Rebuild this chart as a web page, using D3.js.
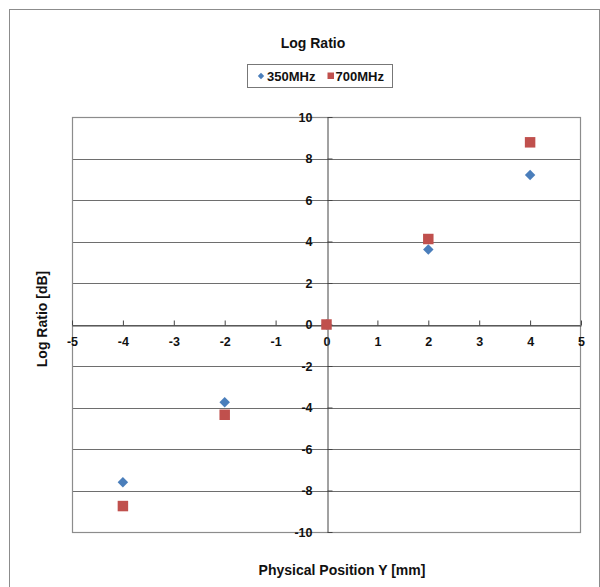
<!DOCTYPE html>
<html>
<head>
<meta charset="utf-8">
<script src="https://cdn.jsdelivr.net/npm/d3@7"></script>
<style>
  body { margin: 0; background: #fff; }
  svg { display: block; font-family: "Liberation Sans", Arial, sans-serif; font-weight: bold; }
</style>
</head>
<body>
<svg id="chart" width="600" height="587"></svg>
<script>
// data
const positions = [-4, -2, 0, 2, 4];
const mhz350 = [-7.6, -3.75, 0, 3.62, 7.2];
const mhz700 = [-8.75, -4.35, 0, 4.12, 8.78];
const xTicks = [-5, -4, -3, -2, -1, 0, 1, 2, 3, 4, 5];
const yTicks = [-10, -8, -6, -4, -2, 0, 2, 4, 6, 8, 10];
const seriesNames = ["350MHz", "700MHz"];

const svg = d3.select("#chart");

// outer chart border
svg.append("rect")
    .attr("x", 9.5).attr("y", 9.5)
    .attr("width", 590).attr("height", 590)
    .attr("fill", "none").attr("stroke", "#8c8c8c");

let pLeft = 72, pRight = 581, pTop = 117, pBottom = 532;

let x = d3.scaleLinear().domain([-5, 5]).range([pLeft, pRight]);
let y = d3.scaleLinear().domain([-10, 10]).range([pBottom, pTop]);

// horizontal gridlines
svg.append("g")
    .selectAll("line")
    .data(yTicks)
    .join("line")
    .attr("x1", pLeft).attr("x2", pRight)
    .attr("y1", d => Math.round(y(d)) + 0.5).attr("y2", d => Math.round(y(d)) + 0.5)
    .attr("stroke", "#6e6e6e").attr("stroke-width", 1);

// plot area border
svg.append("rect")
    .attr("x", pLeft + 0.5).attr("y", pTop + 0.5)
    .attr("width", pRight - pLeft - 1).attr("height", pBottom - pTop)
    .attr("fill", "none").attr("stroke", "#8c8c8c").attr("stroke-width", 1.2);

// x axis through y = 0
let xAxis = svg.append("g")
    .attr("transform", `translate(0,${Math.round(y(0)) + 0.5})`)
    .call(d3.axisBottom(x).tickValues(xTicks).tickSize(0).tickPadding(12).tickFormat(d => String(d)));
xAxis.select(".domain").attr("stroke", "#444");
xAxis.selectAll(".tick").append("line")
    .attr("y1", -5).attr("y2", 0).attr("stroke", "#444");
xAxis.selectAll("text")
    .attr("font-size", 12.5).attr("font-weight", "bold").attr("fill", "#111")
    .attr("font-family", "Liberation Sans, Arial, sans-serif");

// y axis through x = 0
let yAxis = svg.append("g")
    .attr("transform", `translate(${Math.round(x(0)) + 0.5},0)`)
    .call(d3.axisLeft(y).tickValues(yTicks).tickSize(0).tickPadding(15).tickFormat(d => String(d)));
yAxis.select(".domain").attr("stroke", "#444");
yAxis.selectAll(".tick").append("line")
    .attr("x1", 0).attr("x2", 5).attr("stroke", "#444");
yAxis.selectAll("text")
    .attr("font-size", 12.5).attr("font-weight", "bold").attr("fill", "#111")
    .attr("font-family", "Liberation Sans, Arial, sans-serif");

// markers
let diamond = d3.symbol().type(d3.symbolDiamond2).size(70);
let square = d3.symbol().type(d3.symbolSquare).size(110);

svg.append("g")
    .selectAll("path")
    .data(positions.map((p, i) => [p, mhz350[i]]))
    .join("path")
    .attr("d", diamond)
    .attr("transform", d => `translate(${x(d[0])},${y(d[1])})`)
    .attr("fill", "#4a7ebb");

svg.append("g")
    .selectAll("path")
    .data(positions.map((p, i) => [p, mhz700[i]]))
    .join("path")
    .attr("d", square)
    .attr("transform", d => `translate(${x(d[0])},${y(d[1])})`)
    .attr("fill", "#c0504d");

// title
svg.append("text")
    .attr("x", 313).attr("y", 48)
    .attr("text-anchor", "middle")
    .attr("font-size", 14)
    .attr("fill", "#111")
    .text("Log Ratio");

// legend
let lg = svg.append("g");
lg.append("rect")
    .attr("x", 247.5).attr("y", 64.5).attr("width", 145).attr("height", 23)
    .attr("fill", "#fff").attr("stroke", "#777");
lg.append("path")
    .attr("d", d3.symbol().type(d3.symbolDiamond2).size(26))
    .attr("transform", "translate(261,76)")
    .attr("fill", "#4a7ebb");
lg.append("text")
    .attr("x", 267).attr("y", 80.5)
    .attr("font-size", 13).attr("fill", "#111")
    .text(seriesNames[0]);
lg.append("rect")
    .attr("x", 327.5).attr("y", 72.5).attr("width", 6.5).attr("height", 6.5)
    .attr("fill", "#c0504d");
lg.append("text")
    .attr("x", 335.5).attr("y", 80.5)
    .attr("font-size", 13).attr("fill", "#111")
    .text(seriesNames[1]);

// axis titles
svg.append("text")
    .attr("x", 342).attr("y", 575)
    .attr("text-anchor", "middle")
    .attr("font-size", 14).attr("fill", "#111")
    .text("Physical Position Y [mm]");

svg.append("text")
    .attr("transform", "translate(47,319) rotate(-90)")
    .attr("text-anchor", "middle")
    .attr("font-size", 14).attr("fill", "#111")
    .text("Log Ratio [dB]");
</script>
</body>
</html>
